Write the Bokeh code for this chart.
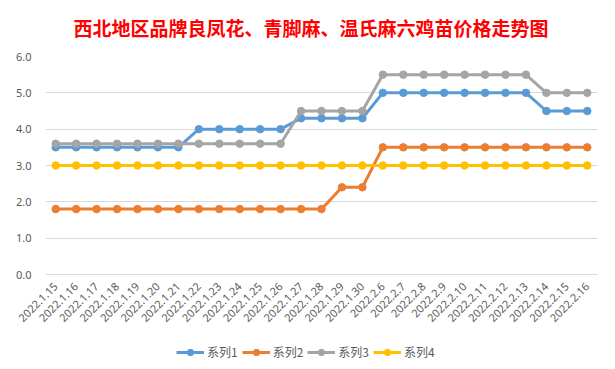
import math
from bokeh.plotting import figure
from bokeh.layouts import column
from bokeh.models import FactorRange, Range1d, Legend, LegendItem, NumeralTickFormatter, FixedTicker, Title
from bokeh.embed import file_html
from bokeh.resources import INLINE

dates = ["2022.1.15", "2022.1.16", "2022.1.17", "2022.1.18", "2022.1.19", "2022.1.20", "2022.1.21",
         "2022.1.22", "2022.1.23", "2022.1.24", "2022.1.25", "2022.1.26", "2022.1.27", "2022.1.28",
         "2022.1.29", "2022.1.30", "2022.2.6", "2022.2.7", "2022.2.8", "2022.2.9", "2022.2.10",
         "2022.2.11", "2022.2.12", "2022.2.13", "2022.2.14", "2022.2.15", "2022.2.16"]
series1 = [3.5, 3.5, 3.5, 3.5, 3.5, 3.5, 3.5, 4.0, 4.0, 4.0, 4.0, 4.0, 4.3, 4.3, 4.3, 4.3,
           5.0, 5.0, 5.0, 5.0, 5.0, 5.0, 5.0, 5.0, 4.5, 4.5, 4.5]
series2 = [1.8, 1.8, 1.8, 1.8, 1.8, 1.8, 1.8, 1.8, 1.8, 1.8, 1.8, 1.8, 1.8, 1.8, 2.4, 2.4,
           3.5, 3.5, 3.5, 3.5, 3.5, 3.5, 3.5, 3.5, 3.5, 3.5, 3.5]
series3 = [3.6, 3.6, 3.6, 3.6, 3.6, 3.6, 3.6, 3.6, 3.6, 3.6, 3.6, 3.6, 4.5, 4.5, 4.5, 4.5,
           5.5, 5.5, 5.5, 5.5, 5.5, 5.5, 5.5, 5.5, 5.0, 5.0, 5.0]
series4 = [3.0] * 27
names = ["系列1", "系列2", "系列3", "系列4"]
colors = ["#5b9bd5", "#ed7d31", "#a5a5a5", "#ffc000"]
y_ticks = [0, 1, 2, 3, 4, 5, 6]
title_text = "西北地区品牌良凤花、青脚麻、温氏麻六鸡苗价格走势图"
all_series = [series1, series2, series3, series4]

p = figure(frame_width=552, frame_height=218, x_range=FactorRange(*dates), y_range=Range1d(0, 6),
           output_backend="svg", toolbar_location=None,
           min_border_left=45, min_border_right=10, min_border_top=53, min_border_bottom=55)
p.outline_line_color = None
p.add_layout(Title(text=title_text, text_color="#ff0000", text_font="Noto Sans CJK SC",
                   text_font_size="19px", text_font_style="bold", align="left", offset=28,
                   vertical_align="top", standoff=27), "above")

for name, ys, c in zip(names, all_series, colors):
    p.line(dates, ys, line_color=c, line_width=3)
    p.scatter(dates, ys, size=7.5, fill_color=c, line_color=c)

p.xgrid.grid_line_color = None
p.ygrid.grid_line_color = "#d9d9d9"
p.ygrid.grid_line_width = 1

p.yaxis.ticker = FixedTicker(ticks=y_ticks)
p.yaxis.formatter = NumeralTickFormatter(format="0.0")
for ax in [p.xaxis[0], p.yaxis[0]]:
    ax.axis_line_color = None
    ax.major_tick_line_color = None
    ax.minor_tick_line_color = None
    ax.major_label_text_color = "#595959"
    ax.major_label_text_font = "Noto Sans"
    ax.major_label_text_font_size = "11px"
p.xaxis.major_label_orientation = math.pi / 4
p.xaxis.axis_line_color = "#d9d9d9"
p.xaxis.major_label_standoff = 4
p.yaxis.major_label_standoff = 8

# legend strip below the chart: same series drawn outside its visible range,
# only the legend shows
lg = figure(width=607, height=35, x_range=FactorRange(*dates), y_range=Range1d(100, 101),
            output_backend="svg", toolbar_location=None,
            x_axis_location=None, y_axis_location=None,
            min_border_left=0, min_border_right=0, min_border_top=0, min_border_bottom=0)
lg.outline_line_color = None
lg.xgrid.grid_line_color = None
lg.ygrid.grid_line_color = None
items = []
for name, ys, c in zip(names, all_series, colors):
    r1 = lg.line(dates, ys, line_color=c, line_width=3)
    r2 = lg.scatter(dates, ys, size=7.5, fill_color=c, line_color=c)
    items.append(LegendItem(label=name, renderers=[r1, r2]))
legend = Legend(items=items, orientation="horizontal", location=(131, 4),
                label_text_font="Noto Sans CJK SC", label_text_font_size="12px",
                label_text_color="#595959", border_line_color=None, background_fill_alpha=0,
                glyph_width=28, glyph_height=16, spacing=4, label_standoff=3, margin=0, padding=2)
lg.add_layout(legend, "center")

layout = column(p, lg, spacing=0)
open("out.html", "w").write(file_html(layout, INLINE))
